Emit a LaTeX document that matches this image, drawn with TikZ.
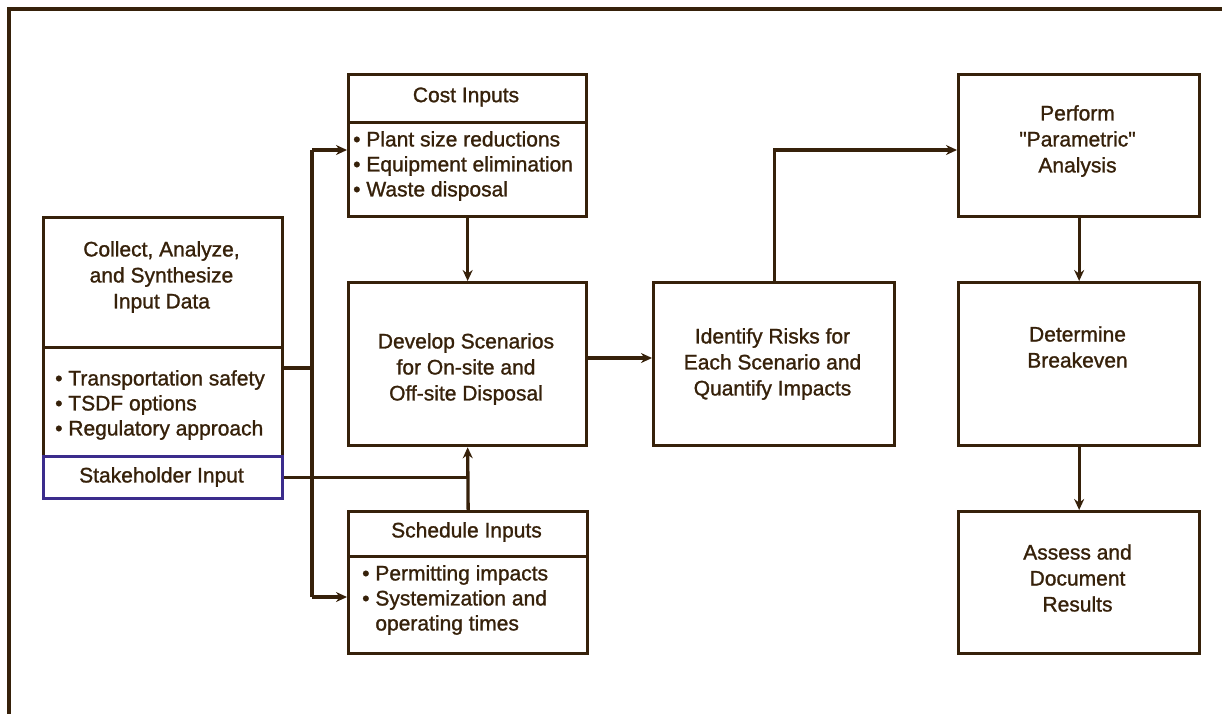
\documentclass[tikz,border=0pt]{standalone}
\usepackage{fontspec}
\setmainfont{Liberation Sans}[FakeBold=1.2]
\usetikzlibrary{arrows.meta}
\definecolor{ink}{HTML}{36210A}
\definecolor{blueink}{HTML}{3B2C8C}
\begin{document}
\begin{tikzpicture}[x=1pt,y=-1pt,
  box/.style={draw=ink, line width=3.3pt, inner sep=0pt, anchor=north west},
  txt/.style={text=ink, font=\fontsize{21}{26}\selectfont, align=center, inner sep=0pt},
  btxt/.style={text=ink, font=\fontsize{21}{25}\selectfont, align=left, inner sep=0pt, anchor=west},
  conn/.style={draw=ink, line width=3.3pt},
  arr/.style={conn, -{Stealth[length=11pt,width=10pt]}},
]
\useasboundingbox (0,0) rectangle (1222,713);
\clip (0,0) rectangle (1222,713);
\draw[ink, line width=3.3pt] (9,9) rectangle (1240,730);

% left box
\node[box, minimum width=239pt, minimum height=130pt] (lhead) at (42,216) {};
\node[box, minimum width=239pt, minimum height=109pt] (lbody) at (42,346) {};
\node[box, draw=blueink, minimum width=239pt, minimum height=42pt] (stake) at (42,455) {};
\node[txt] (lheadt) at (161.5,277) {Collect, Analyze,\\and Synthesize\\Input Data};
\node[btxt] (lbodyt) at (55,405) {• Transportation safety\\• TSDF options\\• Regulatory approach};
\node[txt] (staket) at (161.5,477) {Stakeholder Input};

% cost inputs
\node[box, minimum width=238pt, minimum height=48pt] (chead) at (347,73) {};
\node[box, minimum width=238pt, minimum height=94pt] (cbody) at (347,121) {};
\node[txt] (cheadt) at (466,97) {Cost Inputs};
\node[btxt] (cbodyt) at (353,166) {• Plant size reductions\\• Equipment elimination\\• Waste disposal};

% develop
\node[box, minimum width=238pt, minimum height=163pt] (dev) at (347,281) {};
\node[txt] (devt) at (466,369) {Develop Scenarios\\for On-site and\\Off-site Disposal};

% schedule inputs
\node[box, minimum width=239pt, minimum height=45pt] (shead) at (347,510) {};
\node[box, minimum width=239pt, minimum height=97pt] (sbody) at (347,555) {};
\node[txt] (sheadt) at (466.5,532) {Schedule Inputs};
\node[btxt] (sbodyt) at (362,600) {• Permitting impacts\\• Systemization and\\\phantom{• }operating times};

% identify
\node[box, minimum width=241pt, minimum height=163pt] (ident) at (652,281) {};
\node[txt] (identt) at (772.5,364) {Identify Risks for\\Each Scenario and\\Quantify Impacts};

% right column
\node[box, minimum width=241pt, minimum height=142pt] (perf) at (957,73) {};
\node[txt] (perft) at (1077.5,141) {Perform\\\textquotedbl Parametric\textquotedbl\\Analysis};
\node[box, minimum width=241pt, minimum height=163pt] (det) at (957,281) {};
\node[txt] (dett) at (1077.5,347) {Determine\\Breakeven};
\node[box, minimum width=241pt, minimum height=142pt] (assess) at (957,510) {};
\node[txt] (assesst) at (1077.5,578) {Assess and\\Document\\Results};

% connectors
\coordinate (busT) at (312,150);
\coordinate (busB) at (312,597);
\coordinate (busM) at (312,368);
\coordinate (dv) at (0,358);
\draw[conn] (lbody.east |- busM) -- (busM);
\draw[conn] (busT) -- (busB);
\draw[arr] (busT) -- (cbody.west |- busT);
\draw[arr] (busB) -- (sbody.west |- busB);
\draw[arr] (cbody.south) -- (dev.north);
\draw[conn] (stake.east) -- (shead.north |- stake.east);
\draw[arr] (shead.north) -- (dev.south);
\draw[arr] (dev.east |- dv) -- (ident.west |- dv);
\draw[arr] (ident.north) |- (perf.west |- busT);
\draw[arr] (perf.south) -- (det.north);
\draw[arr] (det.south) -- (assess.north);
\end{tikzpicture}
\end{document}
